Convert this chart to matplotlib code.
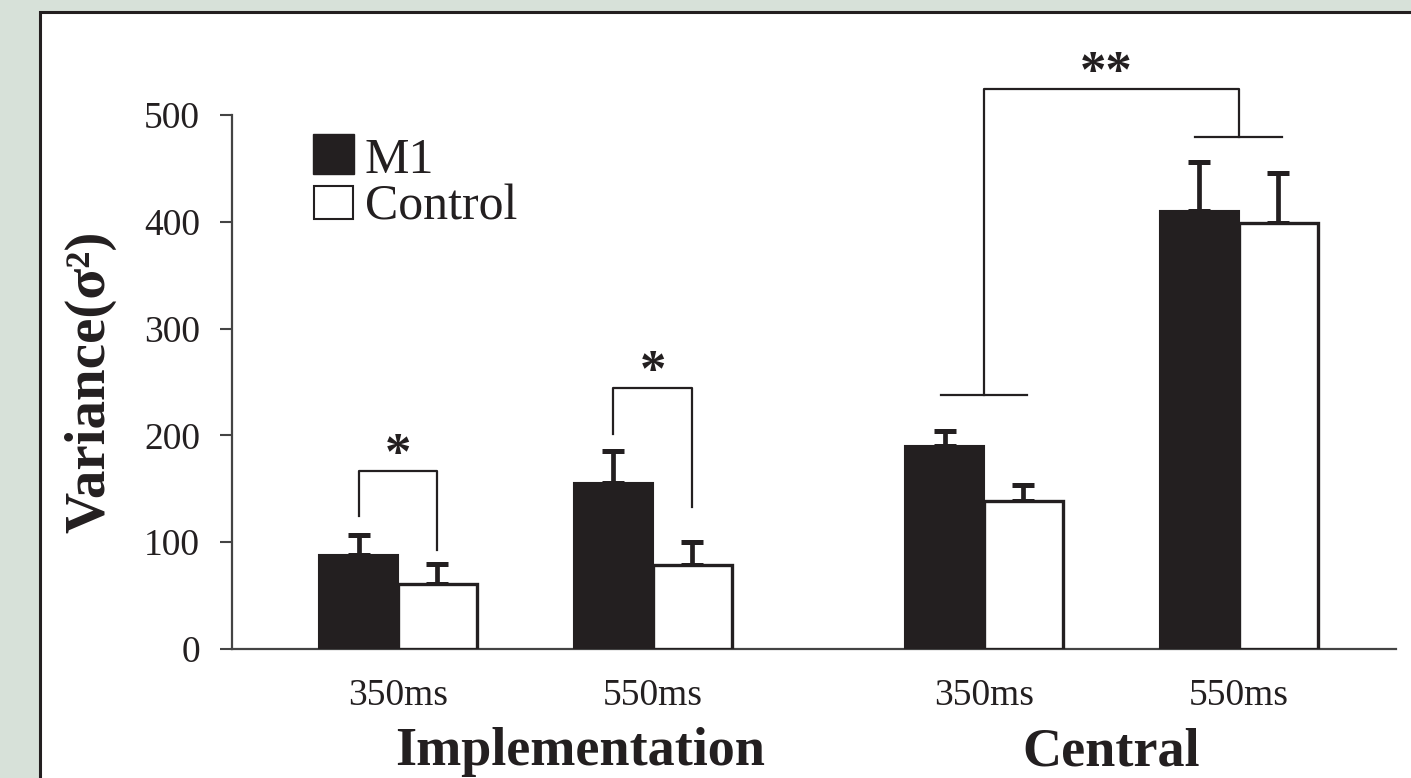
import matplotlib.pyplot as plt
from matplotlib.patches import Rectangle
import numpy as np

# Variance per condition (sigma^2), M1 vs control stimulation
conditions = ["350ms", "550ms", "350ms", "550ms"]
groups = ["Implementation", "Central"]
m1_var = [88, 155, 190, 410]
m1_err = [19, 30, 14, 46]
ctrl_var = [61, 79, 139, 399]
ctrl_err = [19, 21, 15, 47]

INK = "#231f20"
plt.rcParams["font.family"] = ["Liberation Serif", "DejaVu Serif"]

W, H = 1411, 778
fig = plt.figure(figsize=(W / 100, H / 100), dpi=100)
fig.patch.set_facecolor("#d7e1d9")

def fx(px):
    return px / W

def fy(py):
    return 1 - py / H

# white panel with a dark frame
fig.patches.append(Rectangle((fx(40), -0.2), 1.2, fy(12) + 0.2,
                             transform=fig.transFigure, facecolor="white",
                             edgecolor=INK, linewidth=2.2, zorder=-5))

ax = fig.add_axes([fx(232), fy(649), fx(1396) - fx(232), fy(115) - fy(649)])
ax.set_facecolor("none")
ax.set_zorder(2)

centers = np.array([1.0, 2.0, 3.3, 4.3])
bw = 0.31
xm = centers - bw / 2
xc = centers + bw / 2

ekw = dict(elinewidth=3.4, capthick=3.6, ecolor=INK)
ax.bar(xm, m1_var, bw, color=INK, edgecolor=INK, linewidth=1.5, zorder=3)
ax.bar(xc, ctrl_var, bw, color="white", edgecolor=INK, linewidth=2.4, zorder=3)
ax.errorbar(xm, m1_var, yerr=[np.zeros(4), m1_err], fmt="none", capsize=8, zorder=2, **ekw)
ax.errorbar(xc, ctrl_var, yerr=[np.zeros(4), ctrl_err], fmt="none", capsize=8, zorder=2, **ekw)

ax.set_xlim(0.3485, 4.917)
ax.set_ylim(0, 500)
ax.set_yticks([0, 100, 200, 300, 400, 500])
ax.set_xticks(centers)
ax.set_xticklabels(conditions)
ax.tick_params(axis="y", length=9, width=1.5, color="#444444", pad=14,
               labelsize=27, labelcolor=INK)
ax.tick_params(axis="x", length=0, pad=21, labelsize=27, labelcolor=INK)
for s in ["top", "right"]:
    ax.spines[s].set_visible(False)
for s in ["left", "bottom"]:
    ax.spines[s].set_color("#444444")
    ax.spines[s].set_linewidth(1.6)

ax.set_ylabel("Variance(σ²)", fontsize=41, fontweight="bold",
              color=INK, labelpad=20)

lk = dict(color=INK, linewidth=1.6, clip_on=False, zorder=4)

# within-condition brackets (single star)
for i, (lo_m, lo_c, top) in enumerate([(125, 93, 167), (201, 133, 244)]):
    ax.plot([xm[i], xm[i], xc[i], xc[i]], [lo_m, top, top, lo_c], **lk)
    ax.text(centers[i], top + 2, "*", ha="center", va="baseline",
            fontsize=38, color=INK, fontweight="bold")

# central 350 vs 550 bracket (double star)
h_lo, h_hi, top = 238, 479, 524
ax.plot([centers[2] - 0.17, centers[2] + 0.17], [h_lo, h_lo], **lk)
ax.plot([centers[3] - 0.17, centers[3] + 0.17], [h_hi, h_hi], **lk)
ax.plot([centers[2], centers[2], centers[3], centers[3]], [h_lo, top, top, h_hi], **lk)
ax.text((centers[2] + centers[3]) / 2 - 0.02, top + 2, "**", ha="center", va="baseline",
        fontsize=38, color=INK, fontweight="bold", clip_on=False)

# group labels under the ticks
fig.text(fx(580), fy(765), groups[0], ha="center", va="baseline",
         fontsize=39, fontweight="bold", color=INK)
fig.text(fx(1111), fy(765), groups[1], ha="center", va="baseline",
         fontsize=39, fontweight="bold", color=INK)

# legend
fig.patches.append(Rectangle((fx(313), fy(174)), fx(41), 40 / H, transform=fig.transFigure,
                             facecolor=INK, edgecolor=INK, linewidth=1))
fig.patches.append(Rectangle((fx(314), fy(219)), fx(39), 33 / H, transform=fig.transFigure,
                             facecolor="white", edgecolor=INK, linewidth=1.5))
fig.text(fx(364), fy(173), "M1", ha="left", va="baseline", fontsize=36, color=INK)
fig.text(fx(365), fy(220), "Control", ha="left", va="baseline", fontsize=36, color=INK)

fig.savefig("out.png", dpi=100)
